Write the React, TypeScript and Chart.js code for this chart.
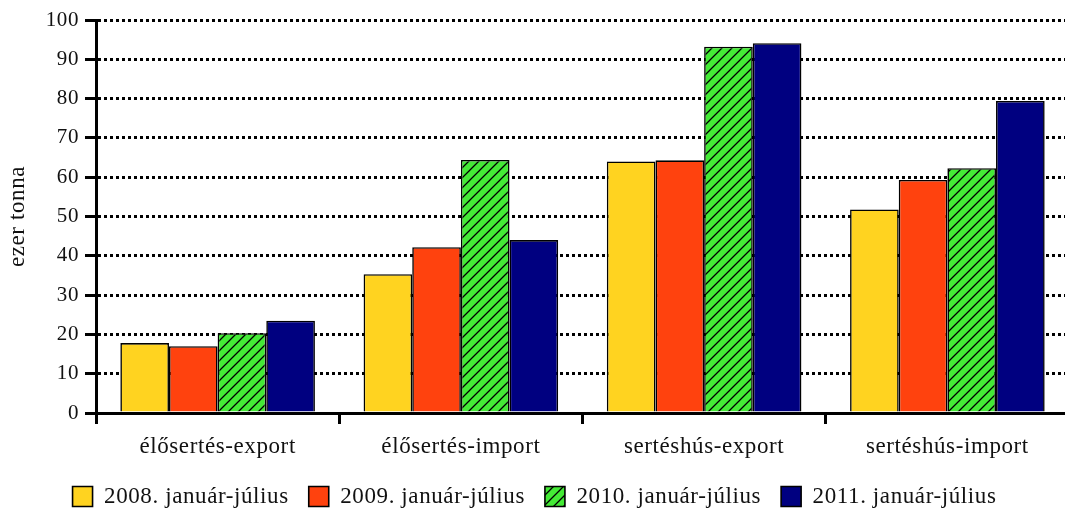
import React, { useEffect, useRef } from "react";
import { Chart, registerables } from "chart.js";

Chart.register(...registerables);

const categories = ["élősertés-export", "élősertés-import", "sertéshús-export", "sertéshús-import"];
const seriesLabels = ["2008. január-július", "2009. január-július", "2010. január-július", "2011. január-július"];
const values2008 = [17.8, 35.3, 64.0, 51.8];
const values2009 = [17.0, 42.2, 64.3, 59.3];
const values2010 = [20.3, 64.4, 93.2, 62.3];
const values2011 = [23.5, 44.0, 94.1, 79.4];
const yTicksMin = 0;
const yTicksMax = 100;
const yTickStep = 10;
const yTitle = "ezer tonna";

const FONT = "'Liberation Serif', 'Times New Roman', serif";
const TEXT = "#111111";

function makeHatch(ctx: CanvasRenderingContext2D, bg: string): CanvasPattern | string {
  const p = document.createElement("canvas");
  p.width = 10;
  p.height = 10;
  const c = p.getContext("2d");
  if (!c) return bg;
  c.fillStyle = bg;
  c.fillRect(0, 0, 10, 10);
  c.strokeStyle = "#000";
  c.lineWidth = 1.3;
  c.beginPath();
  c.moveTo(0, 10);
  c.lineTo(10, 0);
  c.moveTo(-5, 5);
  c.lineTo(5, -5);
  c.moveTo(5, 15);
  c.lineTo(15, 5);
  c.stroke();
  return ctx.createPattern(p, "repeat") || bg;
}

const spacingPlugin = {
  id: "letterSpacing",
  beforeLayout(chart: any) {
    chart.ctx.letterSpacing = "0.6px";
  },
  beforeDraw(chart: any) {
    chart.ctx.letterSpacing = "0.6px";
  },
};

export default function App() {
  const ref = useRef<HTMLCanvasElement | null>(null);

  useEffect(() => {
    document.documentElement.style.overflow = "hidden";
    document.body.style.overflow = "hidden";
    const canvas = ref.current;
    if (!canvas) return;
    const ctx = canvas.getContext("2d");
    if (!ctx) return;
    const hatch = makeHatch(ctx, "#44EA36");
    const common = { borderColor: "#000", borderWidth: 1.6, categoryPercentage: 0.8, barPercentage: 1.0 };
    const chart = new Chart(ctx, {
      type: "bar",
      data: {
        labels: categories,
        datasets: [
          { label: seriesLabels[0], data: values2008, backgroundColor: "#FFD320", ...common },
          { label: seriesLabels[1], data: values2009, backgroundColor: "#FF420E", ...common },
          { label: seriesLabels[2], data: values2010, backgroundColor: hatch as any, ...common },
          { label: seriesLabels[3], data: values2011, backgroundColor: "#000080", ...common },
        ],
      },
      plugins: [spacingPlugin],
      options: {
        animation: false,
        responsive: true,
        maintainAspectRatio: false,
        layout: { padding: { top: 20, left: 0, right: 1, bottom: 0 } },
        font: { family: FONT },
        plugins: {
          tooltip: { enabled: false },
          legend: {
            position: "bottom",
            labels: {
              boxWidth: 20,
              boxHeight: 20,
              padding: 20,
              color: TEXT,
              font: { family: FONT, size: 23 },
            },
          },
        },
        scales: {
          x: {
            ticks: { color: TEXT, font: { family: FONT, size: 23 }, padding: 9, maxRotation: 0 },
            grid: {
              display: true,
              drawOnChartArea: false,
              drawTicks: true,
              tickLength: 11,
              color: "#000",
              lineWidth: 3,
              offset: true,
            },
            border: { display: true, color: "#000", width: 3 },
            afterFit: (s: any) => {
              s.height = 52;
            },
          },
          y: {
            min: yTicksMin,
            max: yTicksMax,
            ticks: { stepSize: yTickStep, color: TEXT, font: { family: FONT, size: 21 }, padding: 6 },
            grid: {
              color: "#000",
              lineWidth: 3,
              tickLength: 11,
              tickWidth: 3,
              tickBorderDash: [],
              drawTicks: true,
            } as any,
            border: { display: true, color: "#000", width: 3, dash: [3, 3] },
            title: {
              display: true,
              text: yTitle,
              color: TEXT,
              font: { family: FONT, size: 23 },
              padding: { top: 4, bottom: 4 },
            },
            afterFit: (s: any) => {
              s.width = 96;
            },
          },
        },
      } as any,
    });
    return () => chart.destroy();
  }, []);

  return (
    <div style={{ position: "absolute", left: 0, top: 0, width: 1070, height: 518 }}>
      <canvas ref={ref} />
    </div>
  );
}
